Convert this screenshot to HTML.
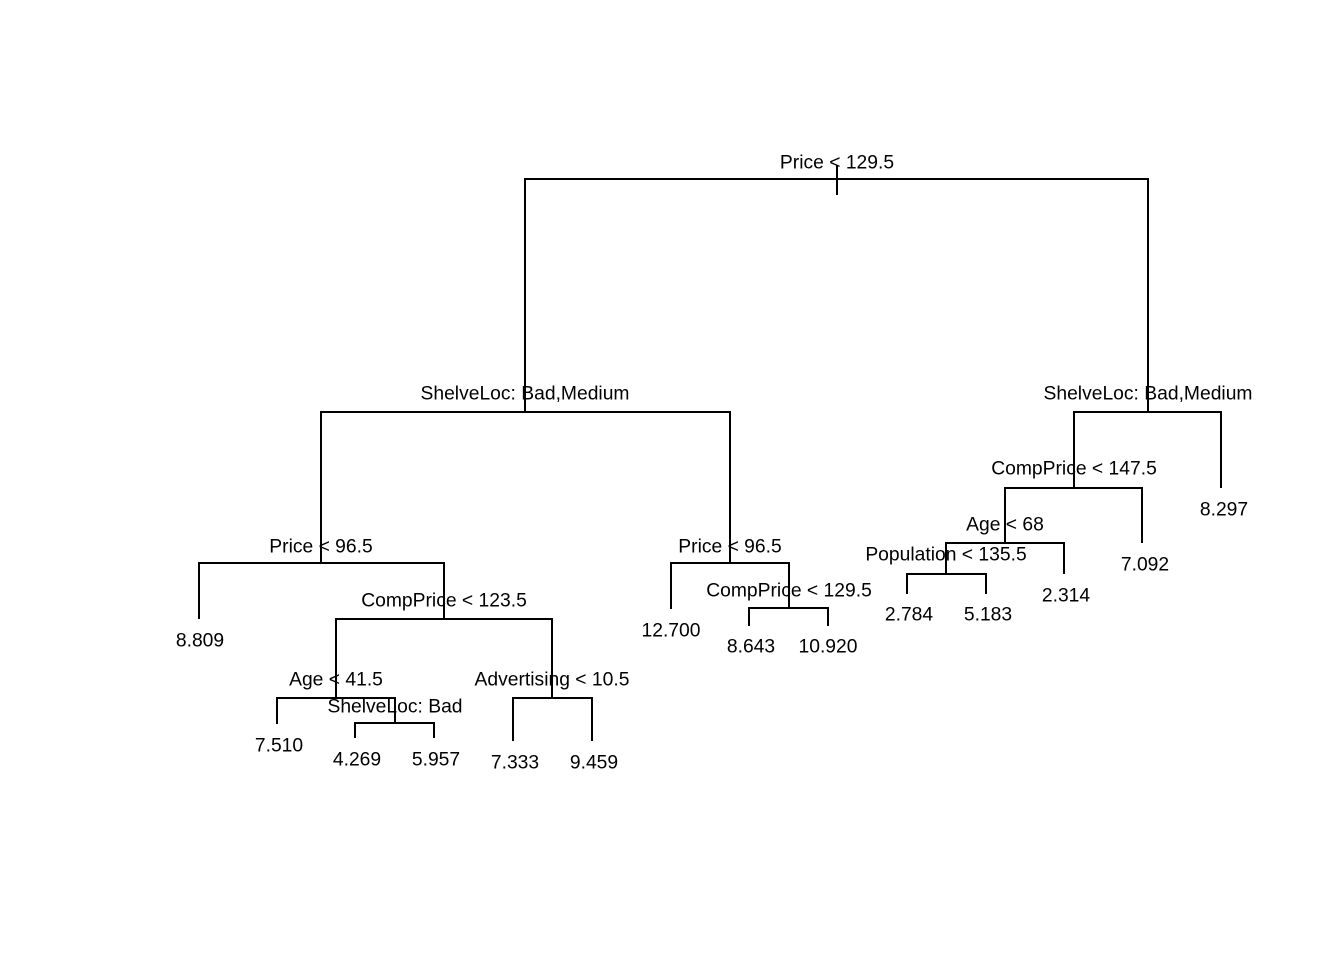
<!DOCTYPE html>
<html><head><style>body{margin:0;background:#fff}svg{display:block}text{font-family:"Liberation Sans",Arial,sans-serif;font-size:19.3px;fill:#000;text-anchor:middle;dominant-baseline:central}</style></head>
<body>
<svg width="1344" height="960" viewBox="0 0 1344 960">
<g stroke="#000" stroke-width="2" fill="none">
<path d="M525 412V179H1148V412"/>
<path d="M837 165V195"/>
<path d="M321 563V412H730V563"/>
<path d="M199 619V563H444V619"/>
<path d="M336 698V619H552V698"/>
<path d="M277 724V698H395V723"/>
<path d="M355 738V723H434V738"/>
<path d="M513 741V698H592V741"/>
<path d="M671 609V563H789V608"/>
<path d="M749 626V608H828V626"/>
<path d="M1074 488V412H1221V488"/>
<path d="M1005 543V488H1142V543"/>
<path d="M946 574V543H1064V574"/>
<path d="M907 594V574H986V594"/>
</g>
<g transform="translate(0,1)">
<text x="837" y="162">Price &lt; 129.5</text>
<text x="525" y="393">ShelveLoc: Bad,Medium</text>
<text x="1148" y="393">ShelveLoc: Bad,Medium</text>
<text x="321" y="546">Price &lt; 96.5</text>
<text x="730" y="546">Price &lt; 96.5</text>
<text x="444" y="600">CompPrice &lt; 123.5</text>
<text x="336" y="679">Age &lt; 41.5</text>
<text x="395" y="706">ShelveLoc: Bad</text>
<text x="552" y="679">Advertising &lt; 10.5</text>
<text x="789" y="590">CompPrice &lt; 129.5</text>
<text x="1074" y="468">CompPrice &lt; 147.5</text>
<text x="1005" y="524">Age &lt; 68</text>
<text x="946" y="554">Population &lt; 135.5</text>
<text x="200" y="640">8.809</text>
<text x="279" y="745">7.510</text>
<text x="357" y="759">4.269</text>
<text x="436" y="759">5.957</text>
<text x="515" y="762">7.333</text>
<text x="594" y="762">9.459</text>
<text x="671" y="630">12.700</text>
<text x="751" y="646">8.643</text>
<text x="828" y="646">10.920</text>
<text x="909" y="614">2.784</text>
<text x="988" y="614">5.183</text>
<text x="1066" y="595">2.314</text>
<text x="1145" y="564">7.092</text>
<text x="1224" y="509">8.297</text>
</g>
</svg>
</body></html>
